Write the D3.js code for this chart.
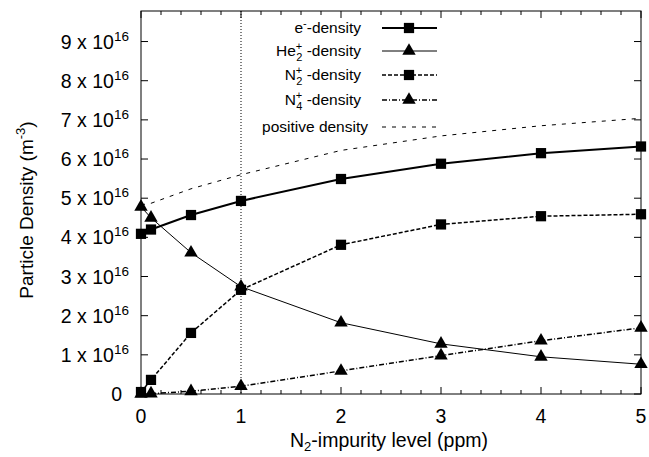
<!DOCTYPE html>
<html>
<head>
<meta charset="utf-8">
<script src="https://cdn.jsdelivr.net/npm/d3@7"></script>
<style>
body { margin: 0; background: #fff; }
text { font-family: "Liberation Sans", Arial, sans-serif; fill: #000; }
</style>
</head>
<body>
<div id="chart"></div>
<script>
// impurity levels (ppm)
var impurity = [0, 0.1, 0.5, 1, 2, 3, 4, 5];
// densities in units of 1e16 m^-3
var electron = [4.09, 4.2, 4.57, 4.93, 5.49, 5.88, 6.15, 6.32];
var he2 = [4.78, 4.5, 3.61, 2.74, 1.82, 1.28, 0.95, 0.76];
var n2 = [0.05, 0.36, 1.56, 2.66, 3.81, 4.33, 4.54, 4.59];
var n4 = [0.0, 0.01, 0.07, 0.2, 0.59, 0.98, 1.36, 1.69];
var positive = [4.83, 4.87, 5.24, 5.6, 6.22, 6.59, 6.85, 7.04];
var yTicks = [0, 1, 2, 3, 4, 5, 6, 7, 8, 9];
var xTicks = [0, 1, 2, 3, 4, 5];

var width = 649, height = 457;
var margin = {top: 11, right: 8, bottom: 63, left: 141};
var w = width - margin.left - margin.right,
    h = height - margin.top - margin.bottom;

var svg = d3.select("#chart").append("svg")
    .attr("width", width)
    .attr("height", height);
var g = svg.append("g")
    .attr("transform", "translate(" + margin.left + "," + margin.top + ")");

var x = d3.scaleLinear().domain([0, 5]).range([0, w]);
var y = d3.scaleLinear().domain([0, 9.78]).range([h, 0]);

// frame
g.append("rect")
    .attr("width", w).attr("height", h)
    .attr("fill", "none").attr("stroke", "#000").attr("stroke-width", 1);

// x ticks bottom/top, minor every 0.2
var minor = d3.range(0, 26).map(function (i) { return i * 0.2; });
minor.forEach(function (v) {
    var major = Math.abs(v - Math.round(v)) < 1e-6;
    var len = major ? 7 : 4;
    g.append("line").attr("x1", x(v)).attr("x2", x(v))
        .attr("y1", h).attr("y2", h - len).attr("stroke", "#000");
    g.append("line").attr("x1", x(v)).attr("x2", x(v))
        .attr("y1", 0).attr("y2", len).attr("stroke", "#000");
});
xTicks.forEach(function (v) {
    g.append("text").attr("x", x(v)).attr("y", h + 29)
        .attr("text-anchor", "middle").style("font-size", "19.5px").text(v);
});

// y ticks left/right
yTicks.forEach(function (v) {
    g.append("line").attr("x1", 0).attr("x2", 7)
        .attr("y1", y(v)).attr("y2", y(v)).attr("stroke", "#000");
    g.append("line").attr("x1", w).attr("x2", w - 7)
        .attr("y1", y(v)).attr("y2", y(v)).attr("stroke", "#000");
    var t = g.append("text").attr("x", v == 0 ? -19 : -12).attr("y", y(v) + 7)
        .attr("text-anchor", "end").style("font-size", "19.5px");
    if (v == 0) {
        t.text("0");
    } else {
        t.append("tspan").text(v + " x 10");
        t.append("tspan").attr("dy", -8).style("font-size", "13.5px").text("16");
    }
});

// dotted line at 1 ppm
g.append("line").attr("x1", x(1)).attr("x2", x(1))
    .attr("y1", 0).attr("y2", h)
    .attr("stroke", "#000").attr("stroke-width", 1).attr("stroke-dasharray", "1,2");

var line = d3.line()
    .x(function (d) { return x(d[0]); })
    .y(function (d) { return y(d[1]); });

function pts(arr) { return impurity.map(function (v, i) { return [v, arr[i]]; }); }

var series = [
    {name: "e", vals: electron, sw: 2, dash: null, marker: "square"},
    {name: "he2", vals: he2, sw: 1, dash: null, marker: "triangle"},
    {name: "n2", vals: n2, sw: 1.5, dash: "4,2", marker: "square"},
    {name: "n4", vals: n4, sw: 1.5, dash: "5,2,1,2", marker: "triangle"},
    {name: "pos", vals: positive, sw: 1, dash: "4,6", marker: null}
];

var sqSym = d3.symbol().type(d3.symbolSquare).size(105);
var triSym = d3.symbol().type(d3.symbolTriangle).size(78);

series.forEach(function (s) {
    g.append("path").datum(pts(s.vals))
        .attr("d", line).attr("fill", "none").attr("stroke", "#000")
        .attr("stroke-width", s.sw)
        .attr("stroke-dasharray", s.dash);
});
series.forEach(function (s) {
    if (!s.marker) return;
    g.append("g").selectAll("path")
        .data(pts(s.vals))
        .enter().append("path")
        .attr("transform", function (d) { return "translate(" + x(d[0]) + "," + y(d[1]) + ")"; })
        .attr("d", s.marker == "square" ? sqSym : triSym)
        .attr("fill", "#000");
});

// legend
var legX = [361, 361, 361, 361, 368];
var lx1 = 382 - margin.left, lx2 = 437 - margin.left, lmx = 409 - margin.left;
var legY = [28, 51, 75, 100, 127];
var labels = [
    [["e", 0], ["-", -1], ["-density", 0]],
    [["He", 0], ["+", -1], ["2", 1], [" -density", 0]],
    [["N", 0], ["+", -1], ["2", 1], [" -density", 0]],
    [["N", 0], ["+", -1], ["4", 1], [" -density", 0]],
    [["positive density", 0]]
];
series.forEach(function (s, i) {
    var ly = legY[i] - margin.top;
    var t = g.append("text").attr("x", legX[i] - margin.left).attr("y", ly + 5)
        .attr("text-anchor", "end").style("font-size", "15.5px");
    var base = 0;
    labels[i].forEach(function (p) {
        var ts = t.append("tspan").text(p[0]);
        if (p[1] == -1) {
            ts.attr("dy", -6).style("font-size", "11px");
            base = -6;
        } else if (p[1] == 1) {
            // subscript sits under the superscript
            ts.attr("dy", 11).attr("dx", -6).style("font-size", "11px");
            base = 5;
        } else {
            ts.attr("dy", -base);
            base = 0;
        }
    });
    g.append("line").attr("x1", lx1).attr("x2", lx2)
        .attr("y1", ly).attr("y2", ly)
        .attr("stroke", "#000").attr("stroke-width", s.sw)
        .attr("stroke-dasharray", s.dash);
    if (s.marker) {
        g.append("path").attr("transform", "translate(" + lmx + "," + ly + ")")
            .attr("d", s.marker == "square" ? sqSym : triSym)
            .attr("fill", "#000");
    }
});

// axis titles
var yl = svg.append("text")
    .attr("transform", "translate(33,210) rotate(-90)")
    .attr("text-anchor", "middle").style("font-size", "19px");
yl.append("tspan").text("Particle Density (m");
yl.append("tspan").attr("dy", -8).style("font-size", "13px").text("-3");
yl.append("tspan").attr("dy", 8).text(")");

var xl = svg.append("text")
    .attr("x", 389).attr("y", 447)
    .attr("text-anchor", "middle").style("font-size", "19.5px");
xl.append("tspan").text("N");
xl.append("tspan").attr("dy", 4).style("font-size", "13px").text("2");
xl.append("tspan").attr("dy", -4).text("-impurity level (ppm)");
</script>
</body>
</html>
